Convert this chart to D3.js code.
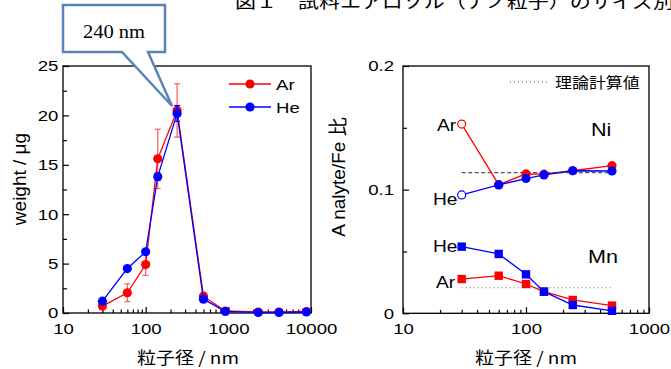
<!DOCTYPE html>
<html><head><meta charset="utf-8">
<script src="https://cdn.jsdelivr.net/npm/d3@7"></script>
<style>
html,body{margin:0;padding:0;background:#fff;}
svg{display:block;}
</style></head>
<body><svg id="c" width="671" height="369"></svg>
<script>
// ---------- data ----------
const leftSizes = [30, 60, 100, 140, 240, 500, 920, 2300, 4100, 8800];
const arWeight  = [0.7, 2.05, 4.9, 15.6, 20.5, 1.7, 0.2, 0.1, 0.1, 0.15];
const arErr     = [0.3, 0.9, 1.1, 3.0, 2.7, 0.3, 0.1, 0.05, 0.05, 0.05];
const heWeight  = [1.2, 4.5, 6.2, 13.8, 20.2, 1.4, 0.15, 0.05, 0.05, 0.1];
const heErr     = [0.15, 0.1, 0.2, 0.35, 0.8, 0.2, 0.05, 0.05, 0.05, 0.05];
const leftYTicks = [0, 5, 10, 15, 20, 25];
const leftXTicks = [10, 100, 1000, 10000];

const rightSizes = [30, 60, 100, 140, 240, 500];
const niAr = [0.153, 0.104, 0.1127, 0.1125, 0.1153, 0.1194];
const niHe = [0.0957, 0.1038, 0.109, 0.1119, 0.1153, 0.1151];
const mnAr = [0.0277, 0.0304, 0.0237, 0.0175, 0.0108, 0.0062];
const mnHe = [0.0539, 0.048, 0.0315, 0.0175, 0.0067, 0.002];
const niTheory = 0.1137;
const mnTheory = 0.0207;
const rightYTicks = [0, 0.1, 0.2];
const rightXTicks = [10, 100, 1000];

const titleText = "図１　試料エアロゾル（ナノ粒子）のサイズ別分析";
const calloutText = "240 nm";
const legendLeft = ["Ar", "He"];
const legendRight = "理論計算値";

// ---------- setup ----------
const svg = d3.select("#c");
const SANS = "'Liberation Sans', Arial, 'Noto Sans CJK JP', sans-serif";
const CJK = "'Noto Sans CJK JP', 'Liberation Sans', sans-serif";
const SX = 1.2;
const RED = "#ff0000", BLUE = "#0000ff";

function txt(x, y, s, size, anchor, fam, sx, color) {
  return svg.append("text")
    .attr("transform", `translate(${x},${y}) scale(${sx == null ? SX : sx},1)`)
    .attr("text-anchor", anchor || "start")
    .attr("font-family", fam || SANS)
    .attr("font-size", size)
    .attr("fill", color || "#000")
    .text(s);
}

// title (partially cut at the top, as in the reference)
txt(235, 8, titleText, 17.5, "start", CJK, 1.2);

function minorLog(lo, hi) {
  const out = [];
  for (let d = lo; d < hi; d *= 10) for (let k = 2; k <= 9; k++) out.push(d * k);
  return out;
}

function drawAxes(x, y, yTicks, xTicks, yMinor, yFmt, yPad) {
  const [x0, x1] = x.range(), [y0, y1] = y.range();
  const gx = svg.append("g").attr("transform", `translate(0,${y0})`)
    .call(d3.axisBottom(x).tickValues(xTicks).tickFormat(d3.format("d")).tickSizeInner(-6).tickSizeOuter(0).tickPadding(10));
  const gxm = svg.append("g").attr("transform", `translate(0,${y0})`)
    .call(d3.axisBottom(x).tickValues(minorLog(xTicks[0], xTicks[xTicks.length - 1])).tickFormat("").tickSizeInner(-3.5).tickSizeOuter(0));
  const gy = svg.append("g").attr("transform", `translate(${x0},0)`)
    .call(d3.axisLeft(y).tickValues(yTicks).tickFormat(yFmt).tickSizeInner(-6).tickSizeOuter(0).tickPadding(yPad));
  const gym = svg.append("g").attr("transform", `translate(${x0},0)`)
    .call(d3.axisLeft(y).tickValues(yMinor).tickFormat("").tickSizeInner(-4).tickSizeOuter(0));
  [gx, gxm, gy, gym].forEach(g => {
    g.select(".domain").remove();
    g.selectAll("line").attr("stroke", "#000").attr("stroke-width", 1.2);
    g.selectAll("text").attr("font-family", SANS).attr("font-size", 15.5).attr("fill", "#000");
  });
  gx.selectAll("text").attr("transform", `scale(${SX},1)`);
  gy.selectAll("text").attr("transform", `scale(${SX},1)`);
  svg.append("rect").attr("x", x0).attr("y", y1).attr("width", x1 - x0).attr("height", y0 - y1)
    .attr("fill", "none").attr("stroke", "#000").attr("stroke-width", 1.3);
}

// ---------- left chart ----------
const xL = d3.scaleLog().domain([10, 10000]).range([63, 311]);
const yL = d3.scaleLinear().domain([0, 25]).range([313, 66]);
drawAxes(xL, yL, leftYTicks, leftXTicks, [2.5, 7.5, 12.5, 17.5, 22.5], d3.format("d"), 3.8);

function errorBars(xs, ys, es, color) {
  const g = svg.append("g").attr("stroke", color).attr("stroke-width", 1.2);
  xs.forEach((s, i) => {
    const cx = xL(s), t = yL(ys[i] + es[i]), b = yL(Math.max(0, ys[i] - es[i]));
    g.append("line").attr("x1", cx).attr("x2", cx).attr("y1", t).attr("y2", b);
    g.append("line").attr("x1", cx - 3).attr("x2", cx + 3).attr("y1", t).attr("y2", t);
    g.append("line").attr("x1", cx - 3).attr("x2", cx + 3).attr("y1", b).attr("y2", b);
  });
}
function series(xs, ys, x, y, color, shape, openFirst) {
  const line = d3.line().x((d, i) => x(xs[i])).y(d => y(d));
  svg.append("path").datum(ys).attr("d", line).attr("fill", "none").attr("stroke", color).attr("stroke-width", 1.3);
  ys.forEach((v, i) => {
    const open = openFirst && i === 0;
    if (shape === "circle") {
      svg.append("circle").attr("cx", x(xs[i])).attr("cy", y(v)).attr("r", open ? 4 : 4.6)
        .attr("fill", open ? "#fff" : color).attr("stroke", color).attr("stroke-width", open ? 1.2 : 0);
    } else {
      svg.append("rect").attr("x", x(xs[i]) - 4.2).attr("y", y(v) - 4.2).attr("width", 8.4).attr("height", 8.4)
        .attr("fill", color);
    }
  });
}
errorBars(leftSizes, arWeight, arErr, "#f26060");
series(leftSizes, arWeight, xL, yL, RED, "circle");
errorBars(leftSizes, heWeight, heErr, BLUE);
series(leftSizes, heWeight, xL, yL, BLUE, "circle");

// legend left
[[RED, 84], [BLUE, 107]].forEach(([c, ly], i) => {
  svg.append("line").attr("x1", 229).attr("x2", 271).attr("y1", ly).attr("y2", ly).attr("stroke", c).attr("stroke-width", 1.3);
  svg.append("circle").attr("cx", 250).attr("cy", ly).attr("r", 4.6).attr("fill", c);
  txt(276, ly + 5.6, legendLeft[i], 15.5);
});

// axis titles left
txt(188, 364, "粒子径  / nm", 16.5, "middle", CJK, 1.15);
svg.append("text").attr("transform", "translate(26,179) rotate(-90)").attr("text-anchor", "middle")
  .attr("font-family", SANS).attr("font-size", 19).text("weight / μg");

// callout
svg.append("path").attr("d", "M63,5 H165 V52 H148 L172,106 L122,52 H63 Z")
  .attr("fill", "#fff").attr("stroke", "#5b84b8").attr("stroke-width", 2.5).attr("stroke-linejoin", "miter");
txt(114, 38, calloutText, 19, "middle", "'Liberation Serif', 'Times New Roman', serif", 1.08);

// ---------- right chart ----------
const xR = d3.scaleLog().domain([10, 1000]).range([403, 649]);
const yR = d3.scaleLinear().domain([0, 0.2]).range([313.3, 66]);
drawAxes(xR, yR, rightYTicks, rightXTicks, [0.05, 0.15], d => d === 0 ? "0" : d3.format(".1f")(d), 7.5);

// theory lines
svg.append("line").attr("x1", xR(rightSizes[0])).attr("x2", xR(rightSizes[rightSizes.length - 1]) + 4)
  .attr("y1", yR(niTheory)).attr("y2", yR(niTheory)).attr("stroke", "#555").attr("stroke-width", 1.3).attr("stroke-dasharray", "4,2.5");
svg.append("line").attr("x1", xR(rightSizes[0])).attr("x2", xR(rightSizes[rightSizes.length - 1]))
  .attr("y1", yR(mnTheory)).attr("y2", yR(mnTheory)).attr("stroke", "#666").attr("stroke-width", 1.1).attr("stroke-dasharray", "1,3");

series(rightSizes, niAr, xR, yR, RED, "circle", true);
series(rightSizes, niHe, xR, yR, BLUE, "circle", true);
series(rightSizes, mnAr, xR, yR, RED, "square");
series(rightSizes, mnHe, xR, yR, BLUE, "square");

// legend right
svg.append("line").attr("x1", 510).attr("x2", 550).attr("y1", 82).attr("y2", 82)
  .attr("stroke", "#555").attr("stroke-width", 1.1).attr("stroke-dasharray", "1,3");
txt(555, 88, legendRight, 15, "start", CJK, 1.13);

// in-plot labels
txt(437, 131, "Ar", 16, "start");
txt(433, 205, "He", 16, "start");
txt(591, 136, "Ni", 18, "start");
txt(433, 252, "He", 16, "start");
txt(436, 288, "Ar", 16, "start");
txt(588, 263, "Mn", 18, "start");

// axis titles right
txt(526, 364, "粒子径 / nm", 16.5, "middle", CJK, 1.15);
svg.append("text").attr("transform", "translate(345,177) rotate(-90)").attr("text-anchor", "middle")
  .attr("font-family", SANS).attr("font-size", 19).text("A nalyte/Fe 比");
</script></body></html>
